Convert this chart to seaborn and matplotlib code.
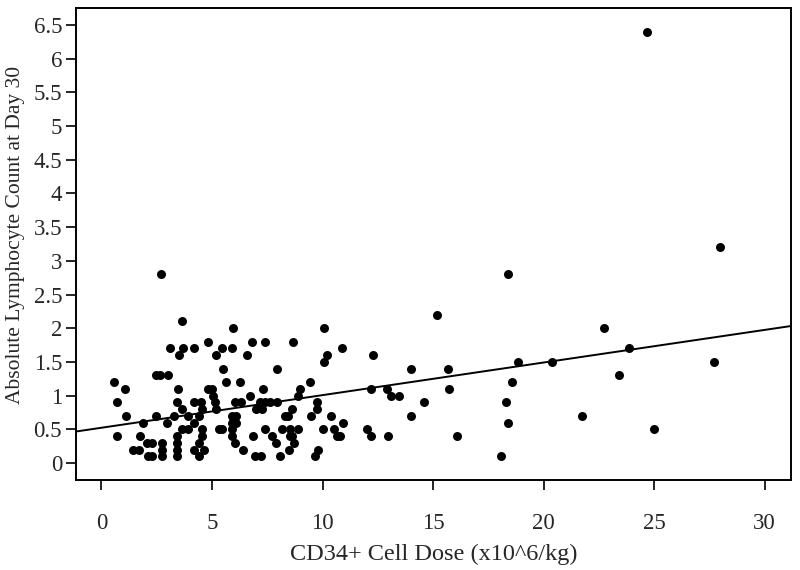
import matplotlib
matplotlib.use("Agg")
import matplotlib.pyplot as plt
import seaborn as sns
import pandas as pd

# CD34+ cell dose (x10^6/kg) and absolute lymphocyte count at day 30
dose = [
    0.57, 1.05, 0.72, 1.10, 0.72, 1.86, 1.74, 1.44, 1.71,
    2.07, 2.27, 2.12, 2.30, 2.72, 2.72, 2.72, 2.47, 2.95, 2.47, 2.65, 3.02, 2.68,
    3.10, 3.70, 3.50, 3.63, 3.45, 3.40, 3.30, 3.66, 3.90, 3.43, 3.43, 3.43, 3.43, 3.63, 3.90,
    4.20, 4.80, 4.80, 4.98, 4.20, 4.50, 4.53, 4.41, 4.20, 4.20, 4.41, 4.41, 4.53, 4.53, 4.65,
    5.03, 5.14, 5.20,
    5.20, 5.44, 5.92, 5.97, 5.51, 5.62, 5.30, 5.44, 5.90, 5.90, 6.10, 5.90, 6.10, 5.92,
    6.27, 6.60, 6.82, 6.72, 6.05, 6.30, 6.04, 6.42, 6.87, 6.95,
    7.40, 7.93, 7.32, 7.17, 7.40, 7.62, 7.93, 7.00, 7.25, 7.38, 7.70, 7.88, 7.20,
    8.68, 9.00, 8.90, 8.60, 8.30, 8.45, 8.15, 8.53, 8.90, 8.60, 8.72, 8.50, 8.08, 8.55,
    9.43, 9.77, 9.74, 9.50, 10.00, 9.78, 9.66,
    10.07, 10.20, 10.07, 10.90, 10.37, 10.94, 10.53, 10.64, 10.79,
    12.00, 12.20, 12.95, 12.20, 12.30, 12.90, 13.10, 13.46, 14.00, 14.00, 14.60,
    15.20, 15.67, 15.72, 16.10, 18.40, 18.86, 18.56, 18.30, 18.40, 18.06,
    20.40, 21.76, 22.75, 23.87, 23.40, 25.00, 27.70, 28.00, 24.70,
]
alc = [
    1.2, 1.1, 0.9, 0.7, 0.4, 0.6, 0.4, 0.2, 0.2,
    0.3, 0.3, 0.1, 0.1, 0.1, 0.2, 0.3, 0.7, 0.6, 1.3, 1.3, 1.3, 2.8,
    1.7, 1.7, 1.6, 2.1, 1.1, 0.9, 0.7, 0.8, 0.7, 0.4, 0.3, 0.2, 0.1, 0.5, 0.5,
    1.7, 1.8, 1.1, 1.1, 0.9, 0.9, 0.8, 0.7, 0.6, 0.2, 0.3, 0.1, 0.5, 0.4, 0.2,
    1.0, 0.9, 0.8,
    1.6, 1.7, 1.7, 2.0, 1.4, 1.2, 0.5, 0.5, 0.5, 0.6, 0.6, 0.7, 0.7, 0.4,
    1.2, 1.6, 1.8, 1.0, 0.9, 0.9, 0.3, 0.2, 0.4, 0.1,
    1.8, 1.4, 1.1, 0.9, 0.9, 0.9, 0.9, 0.8, 0.8, 0.5, 0.4, 0.3, 0.1,
    1.8, 1.1, 1.0, 0.8, 0.7, 0.7, 0.5, 0.5, 0.5, 0.4, 0.3, 0.2, 0.1, 0.4,
    1.2, 0.9, 0.8, 0.7, 0.5, 0.2, 0.1,
    2.0, 1.6, 1.5, 1.7, 0.7, 0.6, 0.5, 0.4, 0.4,
    0.5, 0.4, 0.4, 1.1, 1.6, 1.1, 1.0, 1.0, 1.4, 0.7, 0.9,
    2.2, 1.4, 1.1, 0.4, 2.8, 1.5, 1.2, 0.9, 0.6, 0.1,
    1.5, 0.7, 2.0, 1.7, 1.3, 0.5, 1.5, 3.2, 6.4,
]

x_ticks = [0, 5, 10, 15, 20, 25, 30]
y_ticks = [0, 0.5, 1, 1.5, 2, 2.5, 3, 3.5, 4, 4.5, 5, 5.5, 6, 6.5]
y_tick_labels = ['0', '0.5', '1', '1.5', '2', '2.5', '3', '3.5', '4', '4.5', '5', '5.5', '6', '6.5']

df = pd.DataFrame({'dose': dose, 'alc': alc})

sns.set_style('ticks')
plt.rcParams['font.family'] = ['Liberation Serif', 'DejaVu Serif']

fig = plt.figure(figsize=(8, 5.7), dpi=100)
ax = fig.add_axes([0.095, 0.158, 0.894, 0.828])
ax.set_xlim(-1.15, 31.2)
ax.set_ylim(-0.25, 6.75)

# scatter + least squares line across the full x range
sns.regplot(data=df, x='dose', y='alc', ax=ax, ci=None, truncate=False,
            scatter_kws={'color': 'black', 's': 42, 'linewidths': 0, 'alpha': 1},
            line_kws={'color': 'black', 'lw': 1.4})

ax.set_xticks(x_ticks)
ax.set_yticks(y_ticks)
ax.set_yticklabels(y_tick_labels)
ax.tick_params(axis='x', length=7, width=1.2, pad=17, labelsize=16.5, color='black')
ax.tick_params(axis='y', length=7, width=1.2, pad=3, labelsize=16.5, color='black')
for s in ax.spines.values():
    s.set_linewidth(1.4)
    s.set_color('black')

ax.set_xlabel('CD34+ Cell Dose (x10^6/kg)', fontsize=17.5, labelpad=7)
ax.set_ylabel('Absolute Lymphocyte Count at Day 30', fontsize=15.5)
ax.yaxis.set_label_coords(-0.071, 0.52)

fig.savefig('out.png', dpi=100)
